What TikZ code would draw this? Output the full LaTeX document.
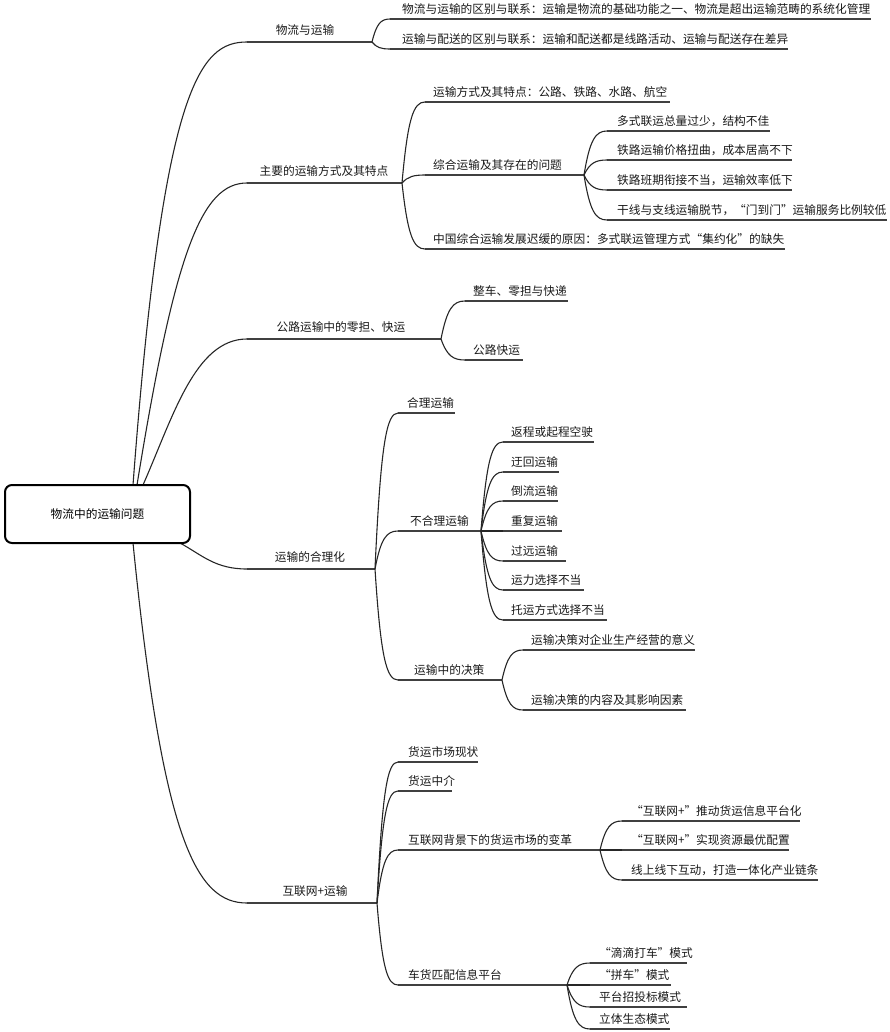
\documentclass[tikz,border=0pt]{standalone}
\usepackage{fontspec}
\setmainfont{Noto Sans CJK SC}
\usetikzlibrary{calc}
\tikzset{
  conn/.style={draw=black!85,line width=1.1pt},
  uline/.style={draw=black!75,line width=1.3pt},
  lbl/.style={inner sep=0pt,text=black!90,font=\fontsize{11.7}{13}\selectfont},
  rootbox/.style={draw=black,line width=2pt,rounded corners=7pt,minimum width=185pt,minimum height=58pt,inner sep=0pt,font=\fontsize{11.7}{13}\selectfont},
  branch/.style={to path={let \p1=(\tikztostart), \p2=(\tikztotarget) in
    .. controls ({\x1+0.25*(\x2-\x1)},{\y1+0.8*(\y2-\y1)}) and ({\x2-0.5*(\x2-\x1)},{\y2}) .. (\tikztotarget)}}
}
% #1 name, #2 x start, #3 x end, #4 y, #5 text x (west), #6 text
\newcommand\mmtopic[6]{%
  \coordinate (#1s) at (#2,#4);
  \coordinate (#1e) at (#3,#4);
  \draw[uline] (#1s) -- (#1e);
  \node[lbl,anchor=west] (#1) at (#5,#4-9.5) {#6};}
% main branch: text centred
\newcommand\mmmain[6]{%
  \coordinate (#1s) at (#2,#4);
  \coordinate (#1e) at (#3,#4);
  \draw[uline] (#1s) -- (#1e);
  \node[lbl] (#1) at (#5,#4-12) {#6};}
\begin{document}
\begin{tikzpicture}[x=1pt,y=-1pt]
\useasboundingbox (0,0) rectangle (890,1032);

% root connectors
\coordinate (r1) at (133,485);
\coordinate (r2) at (137,485);
\coordinate (r3) at (143,485);
\coordinate (r4) at (180,543);
\coordinate (r5) at (133,543);

\mmmain{P1}{247}{372}{42}{305}{物流与运输}
\mmmain{P2}{247}{402}{183}{324}{主要的运输方式及其特点}
\mmmain{P3}{247}{441}{339}{341}{公路运输中的零担、快运}
\mmmain{P4}{247}{375}{569}{310}{运输的合理化}
\mmmain{P5}{247}{377}{903}{315}{互联网+运输}

\draw[conn] (r1) .. controls +(30,-400) and +(-47,0) .. (P1s);
\draw[conn] (r2) .. controls +(38,-235) and +(-45,0) .. (P2s);
\draw[conn] (r3) .. controls +(30,-68) and +(-52,0) .. (P3s);
\draw[conn] (r4) .. controls +(22,12) and +(-32,0) .. (P4s);
\draw[conn] (r5) .. controls +(30,300) and +(-50,0) .. (P5s);

\node[rootbox,fill=white] (root) at (97.5,514) {物流中的运输问题};

% branch 1
\mmtopic{a1}{390}{871}{19}{402}{物流与运输的区别与联系：运输是物流的基础功能之一、物流是超出运输范畴的系统化管理}
\mmtopic{a2}{390}{788}{49}{402}{运输与配送的区别与联系：运输和配送都是线路活动、运输与配送存在差异}
\foreach \c in {a1,a2} \draw[conn] (P1e) to[branch] (\c s);

% branch 2
\mmtopic{b1}{425}{670}{102}{433}{运输方式及其特点：公路、铁路、水路、航空}
\mmtopic{b2}{425}{584}{175}{433}{综合运输及其存在的问题}
\mmtopic{b3}{425}{785}{249}{433}{中国综合运输发展迟缓的原因：多式联运管理方式“集约化”的缺失}
\foreach \c in {b1,b2,b3} \draw[conn] (P2e) to[branch] (\c s);

\mmtopic{c1}{607}{770}{131}{617}{多式联运总量过少，结构不佳}
\mmtopic{c2}{607}{792}{160}{617}{铁路运输价格扭曲，成本居高不下}
\mmtopic{c3}{607}{792}{190}{617}{铁路班期衔接不当，运输效率低下}
\mmtopic{c4}{607}{887}{220}{617}{干线与支线运输脱节，“门到门”运输服务比例较低}
\foreach \c in {c1,c2,c3,c4} \draw[conn] (b2e) to[branch] (\c s);

% branch 3
\mmtopic{d1}{465}{568}{301}{473}{整车、零担与快递}
\mmtopic{d2}{465}{523}{360}{473}{公路快运}
\foreach \c in {d1,d2} \draw[conn] (P3e) to[branch] (\c s);

% branch 4
\mmtopic{e1}{398}{455}{413}{407}{合理运输}
\mmtopic{e2}{398}{481}{531}{410}{不合理运输}
\mmtopic{e3}{398}{502}{680}{414}{运输中的决策}
\foreach \c in {e1,e2,e3} \draw[conn] (P4e) to[branch] (\c s);

\mmtopic{f1}{503}{594}{442}{511}{返程或起程空驶}
\mmtopic{f2}{503}{559}{472}{511}{迂回运输}
\mmtopic{f3}{503}{558}{501}{511}{倒流运输}
\mmtopic{f4}{503}{562}{531}{511}{重复运输}
\mmtopic{f5}{503}{566}{561}{511}{过远运输}
\mmtopic{f6}{503}{584}{590}{511}{运力选择不当}
\mmtopic{f7}{503}{607}{620}{511}{托运方式选择不当}
\foreach \c in {f1,f2,f3,f4,f5,f6,f7} \draw[conn] (e2e) to[branch] (\c s);

\mmtopic{g1}{523}{695}{650}{531}{运输决策对企业生产经营的意义}
\mmtopic{g2}{523}{686}{710}{531}{运输决策的内容及其影响因素}
\foreach \c in {g1,g2} \draw[conn] (e3e) to[branch] (\c s);

% branch 5
\mmtopic{h1}{398}{478}{762}{408}{货运市场现状}
\mmtopic{h2}{398}{452}{791}{408}{货运中介}
\mmtopic{h3}{398}{600}{850}{408}{互联网背景下的货运市场的变革}
\mmtopic{h4}{398}{567}{985}{408}{车货匹配信息平台}
\foreach \c in {h1,h2,h3,h4} \draw[conn] (P5e) to[branch] (\c s);

\mmtopic{i1}{622}{800}{821}{631}{“互联网+”推动货运信息平台化}
\mmtopic{i2}{622}{789}{850}{631}{“互联网+”实现资源最优配置}
\mmtopic{i3}{622}{818}{880}{631}{线上线下互动，打造一体化产业链条}
\foreach \c in {i1,i2,i3} \draw[conn] (h3e) to[branch] (\c s);

\mmtopic{j1}{590}{687}{963}{599}{“滴滴打车”模式}
\mmtopic{j2}{590}{671}{985}{599}{“拼车”模式}
\mmtopic{j3}{590}{687}{1007}{599}{平台招投标模式}
\mmtopic{j4}{590}{670}{1029}{599}{立体生态模式}
\foreach \c in {j1,j2,j3,j4} \draw[conn] (h4e) to[branch] (\c s);
\end{tikzpicture}
\end{document}
